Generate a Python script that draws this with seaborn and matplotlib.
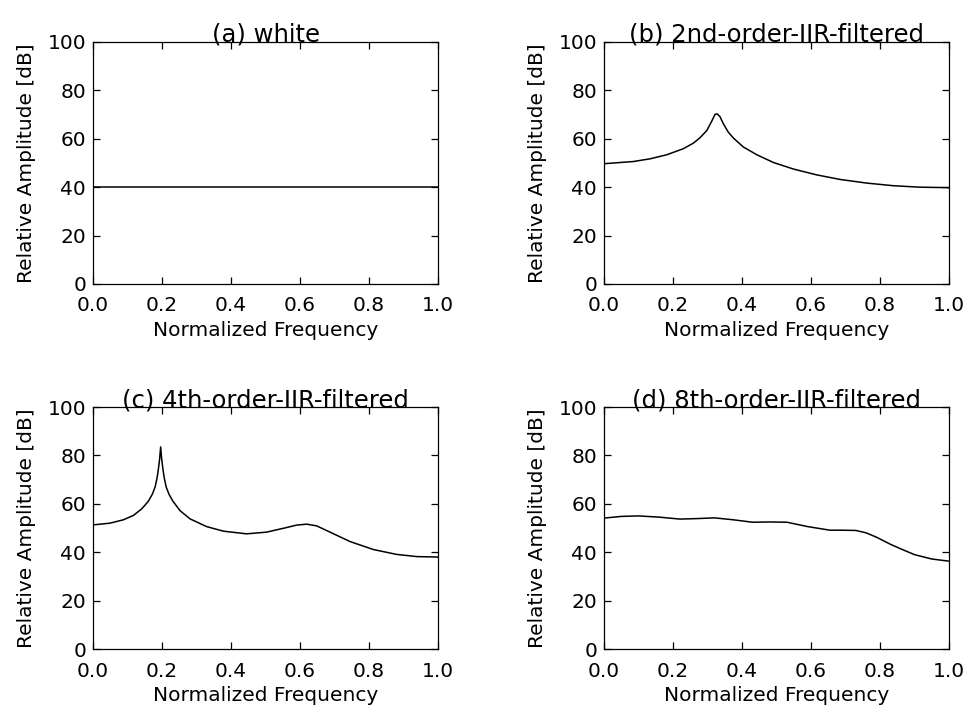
import numpy as np
import pandas as pd
import seaborn as sns

import matplotlib
matplotlib.use('Agg')

import matplotlib.pyplot as plt

# Panel titles
titles = ["(a) white", "(b) 2nd-order-IIR-filtered",
          "(c) 4th-order-IIR-filtered", "(d) 8th-order-IIR-filtered"]

# (a) white noise spectrum
freq_a = [0.0, 1.0]
amp_a = [40.0, 40.0]

# (b) 2nd-order IIR filtered
freq_b = [0.0, 0.085, 0.133, 0.182, 0.23, 0.259, 0.278, 0.298, 0.312, 0.322,
          0.328, 0.336, 0.346, 0.36, 0.375, 0.404, 0.443, 0.491, 0.549, 0.616,
          0.684, 0.761, 0.839, 0.916, 1.0]
amp_b = [49.7, 50.6, 51.7, 53.4, 55.9, 58.2, 60.4, 63.4, 67.2, 70.1,
         70.3, 69.2, 66.2, 62.8, 60.3, 56.6, 53.4, 50.2, 47.5, 45.1,
         43.2, 41.7, 40.6, 40.0, 39.8]

# (c) 4th-order IIR filtered
freq_c = [0.0, 0.049, 0.088, 0.117, 0.141, 0.16, 0.172, 0.18, 0.186, 0.19,
          0.193, 0.196, 0.199, 0.202, 0.206, 0.212, 0.22, 0.231, 0.252, 0.281,
          0.329, 0.378, 0.445, 0.503, 0.552, 0.59, 0.619, 0.648, 0.687, 0.745,
          0.813, 0.88, 0.938, 1.0]
amp_c = [51.3, 52.0, 53.4, 55.2, 57.9, 61.0, 64.0, 67.0, 71.0, 75.0,
         78.5, 83.5, 78.5, 75.0, 71.0, 67.0, 64.0, 61.2, 57.2, 53.8,
         50.6, 48.7, 47.6, 48.3, 49.9, 51.2, 51.6, 50.9, 48.3, 44.4,
         41.1, 39.1, 38.2, 38.0]

# (d) 8th-order IIR filtered
freq_d = [0.0, 0.05, 0.1, 0.16, 0.22, 0.27, 0.32, 0.375, 0.43, 0.48, 0.53,
          0.59, 0.655, 0.69, 0.73, 0.76, 0.79, 0.83, 0.86, 0.9, 0.95, 1.0]
amp_d = [54.1, 54.8, 55.0, 54.5, 53.7, 53.9, 54.2, 53.4, 52.4, 52.5, 52.4,
         50.6, 49.1, 49.1, 49.0, 48.0, 46.2, 43.3, 41.4, 39.0, 37.2, 36.3]

x_ticks = [0.0, 0.2, 0.4, 0.6, 0.8, 1.0]
y_ticks = [0, 20, 40, 60, 80, 100]

sns.set_theme(style="ticks")
plt.rcParams['font.family'] = ['DejaVu Sans']
plt.rcParams['axes.linewidth'] = 0.9
plt.rcParams['text.color'] = 'black'
plt.rcParams['axes.labelcolor'] = 'black'

fig = plt.figure(figsize=(9.67, 7.08), dpi=100)

# axes rectangles [left, bottom, width, height] in figure fractions
rects = [[0.0962, 0.5989, 0.3568, 0.3418],
         [0.6246, 0.5989, 0.3568, 0.3418],
         [0.0962, 0.0833, 0.3568, 0.3418],
         [0.6246, 0.0833, 0.3568, 0.3418]]

series = [(freq_a, amp_a), (freq_b, amp_b), (freq_c, amp_c), (freq_d, amp_d)]

for rect, title, (fx, fy) in zip(rects, titles, series):
    ax = fig.add_axes(rect)
    df = pd.DataFrame({"freq": fx, "amp": fy})
    sns.lineplot(data=df, x="freq", y="amp", ax=ax, color="black",
                 linewidth=1.1, estimator=None, sort=False)
    ax.set_xlim(0, 1)
    ax.set_ylim(0, 100)
    ax.set_xticks(x_ticks)
    ax.set_xticklabels([f"{v:.1f}" for v in x_ticks])
    ax.set_yticks(y_ticks)
    ax.tick_params(direction='in', top=True, right=True, length=5, width=0.9,
                   labelsize=14.5, colors='black')
    ax.tick_params(axis='x', pad=9)
    ax.tick_params(axis='y', pad=5)
    for sp in ax.spines.values():
        sp.set_visible(True)
        sp.set_color('black')
    ax.set_xlabel("Normalized Frequency", fontsize=14.5, labelpad=4)
    ax.set_ylabel("Relative Amplitude [dB]", fontsize=14.5, labelpad=8)
    ax.set_title(title, fontsize=17.5, pad=0)

fig.savefig("out.png", dpi=100)
plt.close(fig)
